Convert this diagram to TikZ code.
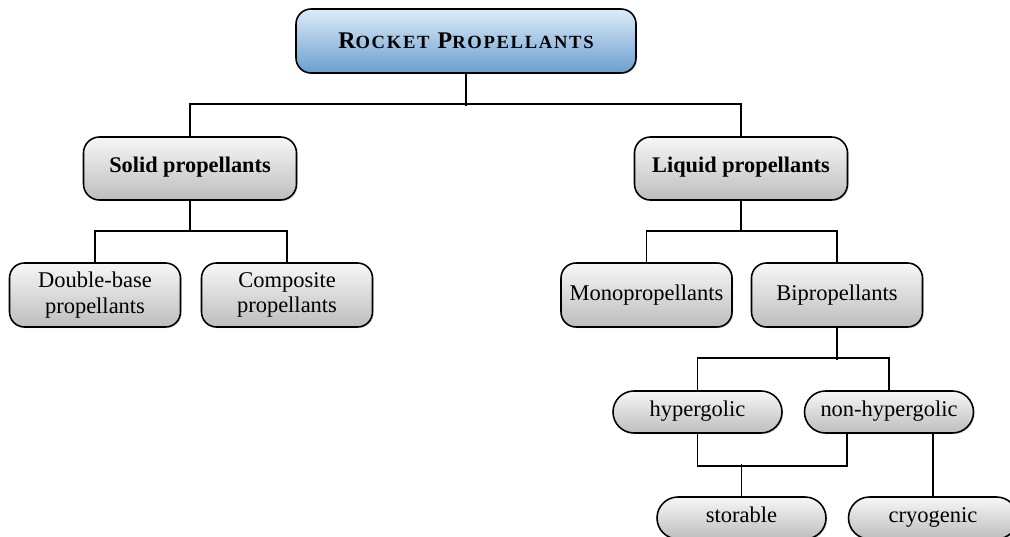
\documentclass[tikz,border=0pt]{standalone}
\usepackage{fontspec}
\setmainfont{Liberation Serif}
\usetikzlibrary{shadows}
\definecolor{rootTop}{HTML}{DDECF9}
\definecolor{rootBot}{HTML}{6A9ECF}
\definecolor{boxTop}{HTML}{F7F7F7}
\definecolor{boxBot}{HTML}{BDBDBD}

\newcommand{\smcaps}[1]{{\fontsize{10.6}{12}\selectfont #1}}

\begin{document}
\begin{tikzpicture}[
  base/.style={draw=black, line width=0.9pt, align=center, inner sep=2pt,
    top color=boxTop, bottom color=boxBot,
    drop shadow={shadow xshift=0.7pt, shadow yshift=-0.7pt, opacity=0.35},
    font=\fontsize{12.8}{14.5}\selectfont},
  rootbox/.style={base, top color=rootTop, bottom color=rootBot,
    minimum width=6.8cm, minimum height=1.28cm, rounded corners=0.3cm,
    font=\fontsize{13.6}{15}\selectfont\bfseries},
  mainbox/.style={base, minimum width=4.26cm, minimum height=1.26cm,
    rounded corners=0.32cm, text height=0.7em, text depth=0.22em,
    font=\fontsize{12.7}{14.5}\selectfont\bfseries},
  subbox/.style={base, minimum width=3.42cm, minimum height=1.28cm,
    rounded corners=0.3cm},
  pill/.style={base, minimum width=3.38cm, minimum height=0.84cm,
    rounded corners=0.42cm, text height=0.72em, text depth=0.22em},
  link/.style={black, line width=1.1pt}
]

% Page frame
\useasboundingbox (0,0) rectangle (20.2,-10.74);
\clip (0,0) rectangle (20.2,-10.74);

% Root
\node[rootbox] (root) at (9.32,-0.82)
  {\addfontfeature{LetterSpace=9}R\smcaps{OCKET} P\smcaps{ROPELLANTS}};

% --- Level 1 ---
\node[mainbox] (solid)  at (3.80,-3.37)  {Solid propellants};
\node[mainbox] (liquid) at (14.82,-3.37) {Liquid propellants};

% --- Level 2 ---
\node[subbox] (dbase) at (1.90,-5.90)  {Double-base\\propellants};
\node[subbox] (comp)  at (5.74,-5.90)  {Composite\\propellants};
\node[subbox] (mono)  at (12.93,-5.90) {Monopropellants};
\node[subbox] (bipr)  at (16.74,-5.90) {Bipropellants};

% --- Level 3 ---
\node[pill] (hyp)    at (13.95,-8.24)  {hypergolic};
\node[pill] (nonhyp) at (17.78,-8.24)  {non-hypergolic};
\node[pill] (stor)   at (14.83,-10.36) {storable};
\node[pill] (cryo)   at (18.66,-10.36) {cryogenic};

% Connectors
\draw[link] (root.south) -- ++(0,-0.64);
\draw[link] (solid.north) -- ++(0,0.64) -| (liquid.north);

\draw[link] (solid.south) -- ++(0,-0.63);
\draw[link] (dbase.north) -- ++(0,0.63) -| (comp.north);

\draw[link] (liquid.south) -- ++(0,-0.63);
\draw[link] (mono.north) -- ++(0,0.63) -| (bipr.north);

\draw[link] (bipr.south) -- ++(0,-0.64);
\draw[link] (hyp.north) -- ++(0,0.64) -| (nonhyp.north);

\draw[link] (hyp.south) -- ++(0,-0.64) -| ([xshift=-0.84cm]nonhyp.south);
\draw[link] (stor.north) -- ++(0,0.64);
\draw[link] (cryo.north |- nonhyp.south) -- (cryo.north);

\end{tikzpicture}
\end{document}
